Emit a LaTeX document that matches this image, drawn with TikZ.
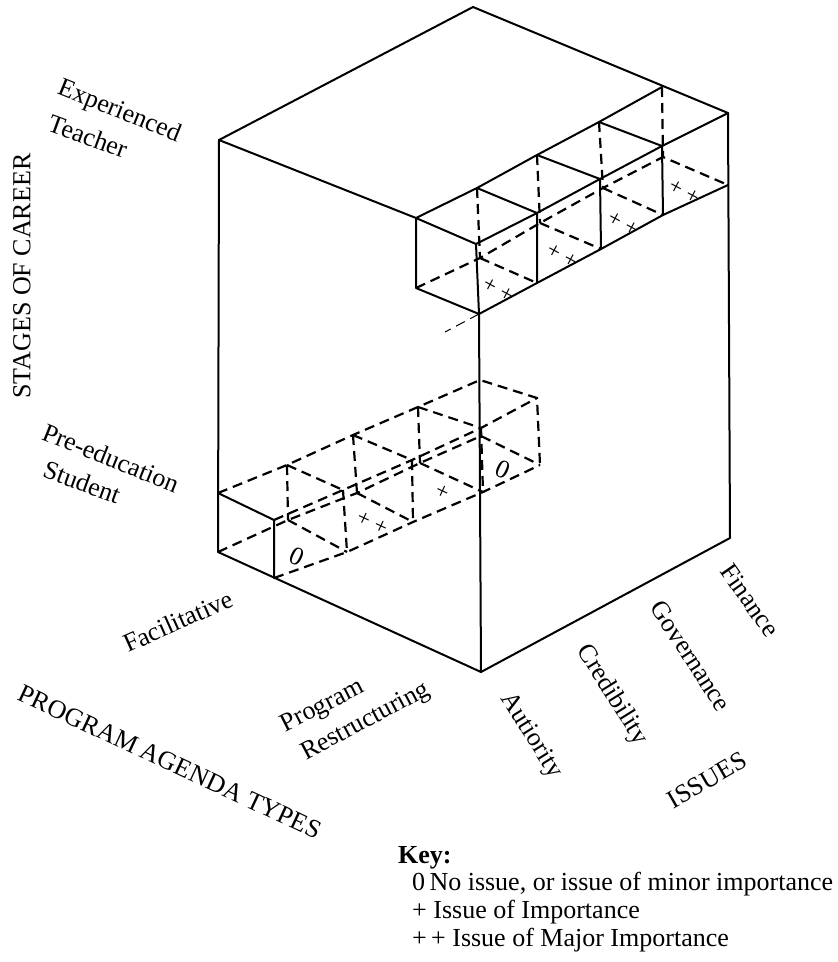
\documentclass[tikz,border=0pt]{standalone}
\usepackage{fontspec}
\setmainfont{Liberation Serif}
\begin{document}
\begin{tikzpicture}[x=1pt,y=-1pt,
  edge/.style={line width=2pt, line cap=round, line join=round},
  hidden/.style={line width=2.2pt, dash pattern=on 10pt off 6pt},
  lbl/.style={font=\fontsize{26}{28}\selectfont, inner sep=0pt},
  cellmark/.style={font=\fontsize{23}{23}\selectfont, inner sep=0pt},
  keytext/.style={font=\fontsize{26}{28}\selectfont, inner sep=0pt, anchor=base west}]
\useasboundingbox (0,0) rectangle (838,962);

% outer block
\coordinate (A)  at (473,7);
\coordinate (L)  at (219,140);
\coordinate (R)  at (728,113);
\coordinate (LB) at (218,552);
\coordinate (RB) at (730,538);
\coordinate (F)  at (481,672);

% upper row of cells: T = top, B = bottom; first index issue, second 1 = back, 0 = front
\coordinate (T01) at (416,218);
\coordinate (T11) at (477,188);
\coordinate (T21) at (537,155);
\coordinate (T31) at (599,122);
\coordinate (T41) at (662,87);
\coordinate (T00) at (476,244);
\coordinate (T10) at (537,213);
\coordinate (T20) at (600,179);
\coordinate (T30) at (662,146);
\coordinate (B01) at (416,288);
\coordinate (B11) at (480,258);
\coordinate (B21) at (540,223);
\coordinate (B31) at (603,188);
\coordinate (B41) at (663,157);
\coordinate (B00) at (479,314);
\coordinate (B10) at (537,283);
\coordinate (B20) at (601,249);
\coordinate (B30) at (663,215);
\coordinate (B40) at (728,185);
\coordinate (stub) at (445,332);

% lower row of cells: U = top back, V = top front, suffix b = bottom
\coordinate (U0) at (218,493);
\coordinate (U1) at (287,465);
\coordinate (U2) at (353,435);
\coordinate (U3) at (418,407);
\coordinate (U4) at (480,380);
\coordinate (V0) at (274,520);
\coordinate (V1) at (343,490);
\coordinate (V2) at (412,460);
\coordinate (V3) at (481,428);
\coordinate (V4) at (537,398);
\coordinate (U0b) at (218,552);
\coordinate (U1b) at (288,520);
\coordinate (U2b) at (357,493);
\coordinate (U3b) at (420,463);
\coordinate (U4b) at (481,436);
\coordinate (V0b) at (274,578);
\coordinate (V1b) at (347,552);
\coordinate (V2b) at (413,522);
\coordinate (V3b) at (483,492);
\coordinate (V4b) at (540,465);

% solid outline of the block
\draw[edge] (L) -- (A) -- (R) -- (RB) -- (F) -- (LB) -- cycle;
\draw[edge] (L) -- (T01) -- (T11) -- (T21) -- (T31) -- (T41);
\draw[edge] (T01) -- (T00) -- (T10) -- (T20) -- (T30) -- (R);
\draw[edge] (T11) -- (T10) (T21) -- (T20) (T31) -- (T30);
\draw[edge] (T01) -- (B01) -- (B00) -- (B10) -- (B20) -- (B30) -- (B40);
\draw[edge] (T00) -- (B00) -- (F);
\draw[edge] (T10) -- (B10) (T20) -- (B20) (T30) -- (B30);

% hidden edges of the upper row
\draw[hidden] (T11) -- (B11) (T21) -- (B21) (T31) -- (B31) (T41) -- (B41);
\draw[hidden] (B01) -- (B11) -- (B21) -- (B31) -- (B41) -- (B40);
\draw[hidden] (B11) -- (B10) (B21) -- (B20) (B31) -- (B30);
\draw[hidden, line width=1pt] (B00) -- (stub);

% lower row
\draw[edge] (U0) -- (V0) -- (V0b);
\draw[hidden] (U0) -- (U1) -- (U2) -- (U3) -- (U4) -- (V4) -- (V4b);
\draw[hidden] (V0) -- (V1) -- (V2) -- (V3) -- (V4);
\draw[hidden] (U0b) -- (U1b) -- (U2b) -- (U3b) -- (U4b) -- (V4b);
\draw[hidden] (V0b) -- (V1b) -- (V2b) -- (V3b) -- (V4b);
\draw[hidden] (U1) -- (U1b) (U2) -- (U2b) (U3) -- (U3b);
\draw[hidden] (V1) -- (V1b) (V2) -- (V2b) (V3) -- (V3b);
\draw[hidden] (U1) -- (V1) (U2) -- (V2) (U3) -- (V3);
\draw[hidden] (U1b) -- (V1b) (U2b) -- (V2b) (U3b) -- (V3b);

% cell ratings
\node[cellmark, rotate=-28] (r1) at (498,290) {+ +};
\node[cellmark, rotate=-28] (r2) at (562,256) {+ +};
\node[cellmark, rotate=-28] (r3) at (623,224) {+ +};
\node[cellmark, rotate=-28] (r4) at (684,192) {+ +};
\node[lbl, rotate=-25] (s1) at (297,557) {0};
\node[cellmark, rotate=-25] (s2) at (372,523) {+ +};
\node[cellmark, rotate=-25] (s3) at (442,492) {+};
\node[lbl, rotate=-25] (s4) at (503,470) {0};

% axis labels
\node[lbl, rotate=90] (stages) at (22,276) {STAGES OF CAREER};
\node[lbl, rotate=-22] (exp) at (119,112) {Experienced};
\node[lbl, rotate=-20] (teach) at (88,136) {Teacher};
\node[lbl, rotate=-22] (pre) at (111,458) {Pre-education};
\node[lbl, rotate=-20] (stud) at (82,482) {Student};
\node[lbl, rotate=24] (fac) at (178,621) {Facilitative};
\node[lbl, rotate=27] (prog) at (323,707) {Program};
\node[lbl, rotate=28] (restr) at (366,722) {Restructuring};
\node[lbl, rotate=-25] (pat) at (170,762) {PROGRAM AGENDA TYPES};
\node[lbl, rotate=-58] (auth) at (531,736) {Autiority};
\node[lbl, rotate=-58] (cred) at (612,695) {Credibility};
\node[lbl, rotate=-57] (gov) at (691,656) {Governance};
\node[lbl, rotate=-55] (fin) at (750,600) {Finance};
\node[lbl, rotate=30] (iss) at (707,780) {ISSUES};

% key
\node[keytext, font=\fontsize{26}{28}\selectfont\bfseries] (key) at (398,863) {Key:};
\node[keytext] (k0) at (412,890) {0\,No issue, or issue of minor importance};
\node[keytext] (k1) at (412,918) {+ Issue of Importance};
\node[keytext] (k2) at (412,946) {+\,+ Issue of Major Importance};
\end{tikzpicture}
\end{document}
